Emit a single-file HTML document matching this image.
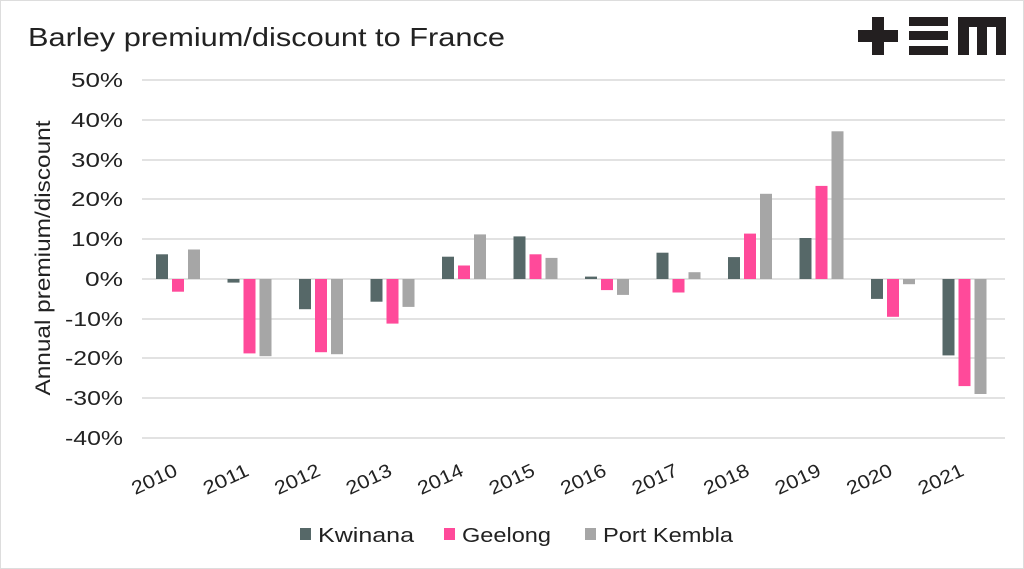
<!DOCTYPE html>
<html><head><meta charset="utf-8"><style>
html,body{margin:0;padding:0;background:#fff;}
svg{display:block;font-family:"Liberation Sans",sans-serif;}
</style></head><body>
<svg width="1024" height="569" viewBox="0 0 1024 569">
<rect x="0.5" y="0.5" width="1023" height="568" fill="#fff" stroke="#ddd"/>
<text x="28" y="46" font-size="26" fill="#222" textLength="477" lengthAdjust="spacingAndGlyphs">Barley premium/discount to France</text>
<g fill="#231f20">
<rect x="858" y="30" width="40" height="12"/><rect x="872" y="17" width="12" height="38"/>
<rect x="909" y="17" width="39" height="9"/><rect x="909" y="31" width="39" height="9"/><rect x="909" y="46" width="39" height="9"/>
<rect x="958" y="17" width="48" height="10"/><rect x="958" y="17" width="11" height="38"/><rect x="977" y="17" width="10" height="38"/><rect x="996" y="17" width="10" height="38"/>
</g>
<g stroke="#d9d9d9" stroke-width="1.5">
<line x1="142" x2="1005" y1="80" y2="80"/><line x1="142" x2="1005" y1="120" y2="120"/><line x1="142" x2="1005" y1="160" y2="160"/><line x1="142" x2="1005" y1="199" y2="199"/><line x1="142" x2="1005" y1="239" y2="239"/><line x1="142" x2="1005" y1="279" y2="279"/><line x1="142" x2="1005" y1="319" y2="319"/><line x1="142" x2="1005" y1="358" y2="358"/><line x1="142" x2="1005" y1="398" y2="398"/><line x1="142" x2="1005" y1="438" y2="438"/>
</g>
<g font-size="20" fill="#222" text-anchor="end">
<text x="123" y="87" textLength="52" lengthAdjust="spacingAndGlyphs">50%</text><text x="123" y="127" textLength="52" lengthAdjust="spacingAndGlyphs">40%</text><text x="123" y="167" textLength="52" lengthAdjust="spacingAndGlyphs">30%</text><text x="123" y="206" textLength="52" lengthAdjust="spacingAndGlyphs">20%</text><text x="123" y="246" textLength="52" lengthAdjust="spacingAndGlyphs">10%</text><text x="123" y="286" textLength="38" lengthAdjust="spacingAndGlyphs">0%</text><text x="123" y="326" textLength="58" lengthAdjust="spacingAndGlyphs">-10%</text><text x="123" y="365" textLength="58" lengthAdjust="spacingAndGlyphs">-20%</text><text x="123" y="405" textLength="58" lengthAdjust="spacingAndGlyphs">-30%</text><text x="123" y="445" textLength="58" lengthAdjust="spacingAndGlyphs">-40%</text>
</g>
<text transform="translate(50,258) rotate(-90)" font-size="21" fill="#222" text-anchor="middle" textLength="275" lengthAdjust="spacingAndGlyphs">Annual premium/discount</text>
<g fill="#566868">
<rect x="156" y="254.3" width="12" height="24.7"/><rect x="227.5" y="279" width="12" height="3.6"/><rect x="299" y="279" width="12" height="30.2"/><rect x="370.5" y="279" width="12" height="22.7"/><rect x="442" y="256.7" width="12" height="22.3"/><rect x="513.5" y="236.4" width="12" height="42.6"/><rect x="585" y="276.6" width="12" height="2.4"/><rect x="656.5" y="252.7" width="12" height="26.3"/><rect x="728" y="257.1" width="12" height="21.9"/><rect x="799.5" y="238" width="12" height="41"/><rect x="871" y="279" width="12" height="19.9"/><rect x="942.5" y="279" width="12" height="76.4"/>
</g>
<g fill="#ff4a9a">
<rect x="172" y="279" width="12" height="12.7"/><rect x="243.5" y="279" width="12" height="74.4"/><rect x="315" y="279" width="12" height="73.2"/><rect x="386.5" y="279" width="12" height="44.6"/><rect x="458" y="265.5" width="12" height="13.5"/><rect x="529.5" y="254.3" width="12" height="24.7"/><rect x="601" y="279" width="12" height="11.1"/><rect x="672.5" y="279" width="12" height="13.5"/><rect x="744" y="233.6" width="12" height="45.4"/><rect x="815.5" y="185.9" width="12" height="93.1"/><rect x="887" y="279" width="12" height="37.8"/><rect x="958.5" y="279" width="12" height="107.1"/>
</g>
<g fill="#a6a6a6">
<rect x="188" y="249.5" width="12" height="29.5"/><rect x="259.5" y="279" width="12" height="77.2"/><rect x="331" y="279" width="12" height="75.2"/><rect x="402.5" y="279" width="12" height="27.9"/><rect x="474" y="234.4" width="12" height="44.6"/><rect x="545.5" y="257.9" width="12" height="21.1"/><rect x="617" y="279" width="12" height="15.9"/><rect x="688.5" y="272.2" width="12" height="6.8"/><rect x="760" y="193.8" width="12" height="85.2"/><rect x="831.5" y="131.3" width="12" height="147.7"/><rect x="903" y="279" width="12" height="5.2"/><rect x="974.5" y="279" width="12" height="115"/>
</g>
<g font-size="19" fill="#222" text-anchor="middle">
<text transform="translate(157,485) rotate(-25)" textLength="48" lengthAdjust="spacingAndGlyphs">2010</text>
<text transform="translate(228.5,485) rotate(-25)" textLength="48" lengthAdjust="spacingAndGlyphs">2011</text>
<text transform="translate(300,485) rotate(-25)" textLength="48" lengthAdjust="spacingAndGlyphs">2012</text>
<text transform="translate(371.5,485) rotate(-25)" textLength="48" lengthAdjust="spacingAndGlyphs">2013</text>
<text transform="translate(443,485) rotate(-25)" textLength="48" lengthAdjust="spacingAndGlyphs">2014</text>
<text transform="translate(514.5,485) rotate(-25)" textLength="48" lengthAdjust="spacingAndGlyphs">2015</text>
<text transform="translate(586,485) rotate(-25)" textLength="48" lengthAdjust="spacingAndGlyphs">2016</text>
<text transform="translate(657.5,485) rotate(-25)" textLength="48" lengthAdjust="spacingAndGlyphs">2017</text>
<text transform="translate(729,485) rotate(-25)" textLength="48" lengthAdjust="spacingAndGlyphs">2018</text>
<text transform="translate(800.5,485) rotate(-25)" textLength="48" lengthAdjust="spacingAndGlyphs">2019</text>
<text transform="translate(872,485) rotate(-25)" textLength="48" lengthAdjust="spacingAndGlyphs">2020</text>
<text transform="translate(943.5,485) rotate(-25)" textLength="48" lengthAdjust="spacingAndGlyphs">2021</text>
</g>
<g font-size="20" fill="#222">
<rect x="300" y="528" width="11" height="12" fill="#566868"/><text x="318" y="542" textLength="96" lengthAdjust="spacingAndGlyphs">Kwinana</text>
<rect x="444" y="528" width="11" height="12" fill="#ff4a9a"/><text x="462" y="542" textLength="89" lengthAdjust="spacingAndGlyphs">Geelong</text>
<rect x="585" y="528" width="11" height="12" fill="#a6a6a6"/><text x="603" y="542" textLength="130" lengthAdjust="spacingAndGlyphs">Port Kembla</text>
</g>
</svg>
</body></html>
